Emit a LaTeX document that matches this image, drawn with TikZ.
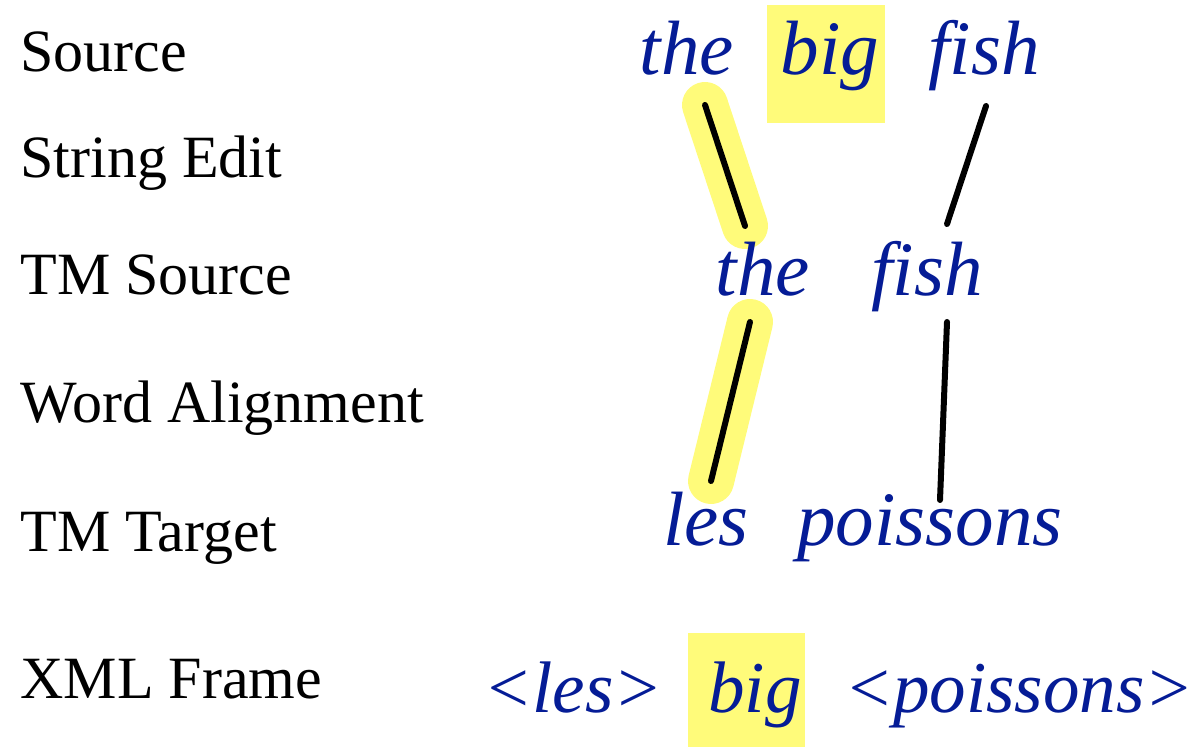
\documentclass[tikz,border=0pt]{standalone}
\usepackage{fontspec}
\setmainfont{Liberation Serif}
\definecolor{wordblue}{RGB}{5,28,150}
\definecolor{hlyellow}{RGB}{255,251,122}
\tikzset{x=0.5pt, y=-0.5pt,
    row label/.style={anchor=base west, inner sep=0pt, font=\fontsize{30}{36}\selectfont},
    word/.style={anchor=base, inner sep=0pt, text=wordblue, font=\fontsize{38.5}{46}\selectfont\itshape},
    frame word/.style={word, font=\fontsize{36.5}{44}\selectfont\itshape},
    hl box/.style={fill=hlyellow},
    hl link/.style={draw=hlyellow, line width=23pt, line cap=round},
    link/.style={draw=black, line width=3pt, line cap=round},
    }
\begin{document}
\begin{tikzpicture}
\useasboundingbox (0,0) rectangle (1198,747);
% highlights
\fill[hl box] (767,5) rectangle (885,123);
\fill[hl box] (688,633) rectangle (805,747);
\coordinate (e1) at (705,105); \coordinate (e2) at (745,226);
\coordinate (e3) at (986,106); \coordinate (e4) at (947,224);
\coordinate (a1) at (750,322); \coordinate (a2) at (711,481);
\coordinate (a3) at (947,322); \coordinate (a4) at (940,500);
\draw[hl link] (e1) -- (e2);
\draw[hl link] (a1) -- (a2);
% row labels
\node[row label] (lsrc) at (20,72) {Source};
\node[row label] (ledit) at (20,178) {String Edit};
\node[row label] (ltms) at (20,295) {TM Source};
\node[row label] (lalign) at (20,423) {Word Alignment};
\node[row label] (ltmt) at (20,552) {TM Target};
\node[row label] (lxml) at (20,698) {XML Frame};
% words
\node[word] (srcthe) at (687,75) {the};
\node[word] (srcbig) at (830,75) {big};
\node[word] (srcfish) at (984,75) {fish};
\node[word] (tmsthe) at (763,296) {the};
\node[word] (tmsfish) at (927,296) {fish};
\node[word] (tmtles) at (706,546) {les};
\node[word] (tmtpoissons) at (930,546) {poissons};
\node[frame word] (xmlles) at (573,712) {<les>};
\node[frame word] (xmlbig) at (755,712) {big};
\node[frame word] (xmlpoissons) at (1019,712) {<poissons>};
% links
\draw[link] (e1) -- (e2);
\draw[link] (e3) -- (e4);
\draw[link] (a1) -- (a2);
\draw[link] (a3) -- (a4);
\end{tikzpicture}
\end{document}
